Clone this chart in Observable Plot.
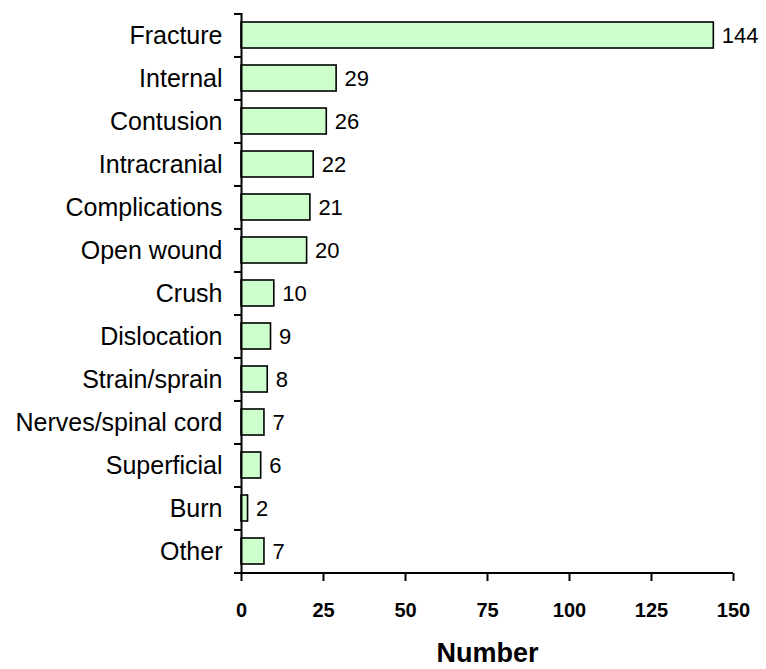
<!DOCTYPE html>
<html><head><meta charset="utf-8">
<script src="https://cdn.jsdelivr.net/npm/d3@7"></script>
<script src="https://cdn.jsdelivr.net/npm/@observablehq/plot@0.6"></script>
<style>body{margin:0;background:#fff} svg{font-family:"Liberation Sans",Arial,sans-serif}</style>
</head><body><div id="chart"></div>
<script>
const categories = ["Fracture","Internal","Contusion","Intracranial","Complications","Open wound","Crush","Dislocation","Strain/sprain","Nerves/spinal cord","Superficial","Burn","Other"];
const values = [144,29,26,22,21,20,10,9,8,7,6,2,7];
const xTicks = [0,25,50,75,100,125,150];
const xLabel = "Number";

const data = categories.map((c, i) => ({injury: c, number: values[i]}));
const W = 766, H = 669, mt = 13, mb = 96, ml = 241, mr = 33;
const pad = 0.4;
const step = (H - mt - mb) / categories.length;
const font = '"Liberation Sans", Arial, sans-serif';
const last = categories[categories.length - 1];

const chart = Plot.plot({
  width: W, height: H,
  marginTop: mt, marginBottom: mb, marginLeft: ml, marginRight: mr,
  style: {fontFamily: font, background: "white", color: "black"},
  x: {domain: [0, 150], label: null},
  y: {domain: categories, paddingInner: pad, paddingOuter: pad / 2, label: null},
  marks: [
    Plot.barX(data, {x: "number", y: "injury", fill: "#ccffcc", stroke: "black", strokeWidth: 1.6}),
    Plot.text(data, {x: "number", y: "injury", text: d => String(d.number), textAnchor: "start", dx: 8, fontSize: 22, fill: "black"}),
    Plot.axisY({tickSize: 0, tickPadding: 19, fontSize: 25, label: null}),
    Plot.axisY({text: null, tickSize: 7, strokeWidth: 2, dy: -step / 2, label: null}),
    Plot.axisY({ticks: [last], text: null, tickSize: 7, strokeWidth: 2, dy: step / 2, label: null}),
    Plot.axisX({ticks: xTicks, tickSize: 8, strokeWidth: 2, tickPadding: 21, fontSize: 20, fontWeight: "bold", label: null}),
    Plot.text([xLabel], {text: d => d, frameAnchor: "bottom", dy: 88, fontSize: 27, fontWeight: "bold", fill: "black"}),
    Plot.ruleX([0], {strokeWidth: 2}),
    Plot.ruleY([last], {y: d => d, dy: step / 2, strokeWidth: 2})
  ]
});
document.getElementById("chart").appendChild(chart);
</script>
</body></html>
